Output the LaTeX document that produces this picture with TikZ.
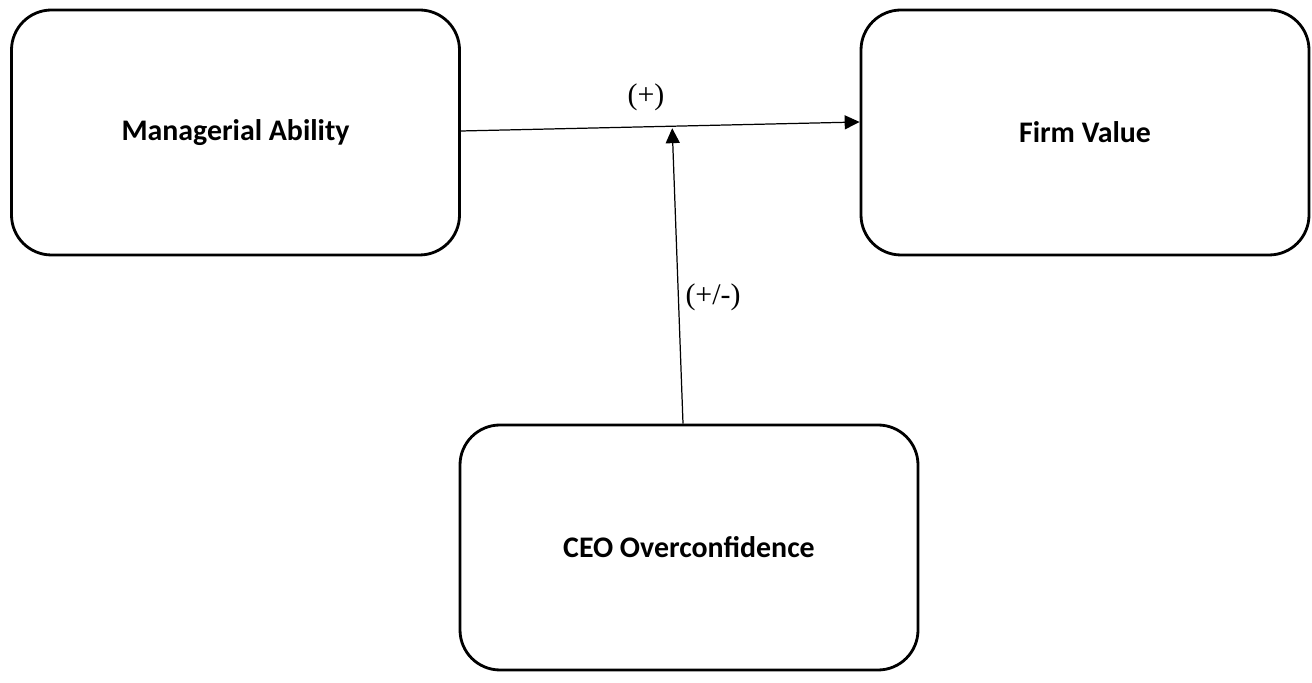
\documentclass[tikz,border=0pt]{standalone}
\usepackage{fontspec}
\setmainfont{Liberation Serif}
\setsansfont{Carlito}
\usetikzlibrary{arrows.meta}
\begin{document}
\begin{tikzpicture}[
        >={Triangle[length=8.5pt,width=8pt]},
        box/.style={rectangle, draw, line width=1.6pt, rounded corners=0.8cm, minimum width=8.96cm, minimum height=4.9cm, align=center, font=\sffamily\bfseries\fontsize{17}{19}\selectfont},
        sign/.style={font=\fontsize{17}{19}\selectfont}
    ]
    \useasboundingbox (0,0) rectangle (26.24,13.66);

    % Blocchi
    \node[box] (ability) at (4.71, 11.01) {Managerial Ability};
    \node[box] (value)   at (21.70, 11.01) {Firm Value};
    \node[box, minimum width=9.16cm] (ceo) at (13.78, 2.71) {CEO Overconfidence};

    % Collegamenti
    \draw[->, line width=0.7pt] ([yshift=0.03cm]ability.east) -- ([yshift=0.21cm]value.west) coordinate[pos=0.53] (meet);
    \draw[->, line width=0.7pt] ([xshift=-0.12cm]ceo.north) -- ([yshift=-0.04cm]meet);

    % Segni
    \node[sign] (plus)  at (12.92, 11.72) {(+)};
    \node[sign] (pm)    at (14.26, 7.72) {(+/-)};

\end{tikzpicture}
\end{document}
